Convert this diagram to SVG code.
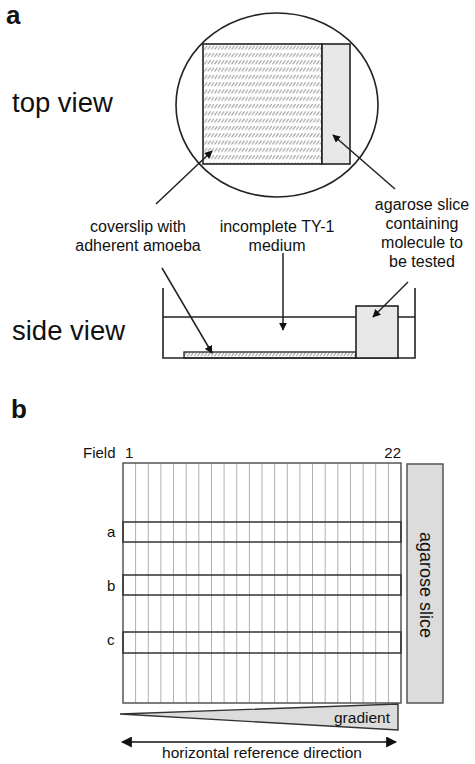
<svg xmlns="http://www.w3.org/2000/svg" width="475" height="764" viewBox="0 0 475 764">
<style>
text{font-family:"Liberation Sans",Arial,sans-serif;fill:#111}
.ln{stroke:#222;stroke-width:1.6;fill:none}
.lbl{font-size:16px;text-anchor:middle}
.big{font-size:27.5px}
.pl{font-size:26px;font-weight:bold}
.grid{stroke:#b0b0b0;stroke-width:1}
.band{fill:none;stroke:#333;stroke-width:1.5}
</style>
<defs>
<pattern id="hatch" patternUnits="userSpaceOnUse" width="3.4" height="7.3">
<line x1="0.3" y1="5.8" x2="3.1" y2="2" stroke="#999" stroke-width="1"/>
</pattern>
<marker id="ah" viewBox="0 0 10 10" refX="9" refY="5" markerWidth="8" markerHeight="8" markerUnits="userSpaceOnUse" orient="auto">
<path d="M0,0 L10,5 L0,10 z" fill="#111"/>
</marker>
<marker id="ah2" viewBox="0 0 10 10" refX="9" refY="5" markerWidth="11" markerHeight="11" markerUnits="userSpaceOnUse" orient="auto-start-reverse">
<path d="M0,0 L10,5 L0,10 z" fill="#111"/>
</marker>
</defs>

<text x="6" y="24" class="pl">a</text>
<text x="12" y="112" class="big">top view</text>
<text x="12" y="340" class="big">side view</text>

<g id="dish-top">
<ellipse cx="277" cy="105" rx="101" ry="92" class="ln"/>
<rect x="203" y="44" width="119" height="120" fill="url(#hatch)" stroke="#222" stroke-width="1.6"/>
<rect x="322" y="44" width="28" height="120" fill="#e8e8e8" stroke="#222" stroke-width="1.6"/>
</g>

<g id="labels">
<text class="lbl" x="138" y="232">coverslip with</text>
<text class="lbl" x="138" y="251">adherent amoeba</text>
<text class="lbl" x="277" y="232">incomplete TY-1</text>
<text class="lbl" x="277" y="251">medium</text>
<text class="lbl" x="422" y="210">agarose slice</text>
<text class="lbl" x="422" y="229">containing</text>
<text class="lbl" x="422" y="248">molecule to</text>
<text class="lbl" x="422" y="267">be tested</text>
</g>

<g id="dish-side">
<path d="M163,288 V358 H415 V288" class="ln"/>
<path d="M163,317 H356 M398,317 H415" stroke="#222" stroke-width="1.4" fill="none"/>
<rect x="184" y="352" width="172" height="6" fill="url(#hatch)" stroke="#222" stroke-width="1.3"/>
<rect x="356" y="306" width="42" height="52" fill="#e8e8e8" stroke="#222" stroke-width="1.6"/>
</g>

<g id="connectors" stroke="#222" stroke-width="1.5" fill="none">
<line x1="156" y1="204" x2="212" y2="151" marker-end="url(#ah)"/>
<line x1="395" y1="189" x2="333" y2="135" marker-end="url(#ah)"/>
<line x1="162" y1="268" x2="212" y2="353" marker-end="url(#ah)"/>
<line x1="283" y1="253" x2="283" y2="330" marker-end="url(#ah)"/>
<line x1="408" y1="282" x2="373" y2="317" marker-end="url(#ah)"/>
</g>

<text x="11" y="418" class="pl">b</text>

<g id="grid">
<text x="83" y="458" font-size="15">Field</text>
<text x="125" y="458" font-size="15">1</text>
<text x="401" y="458" font-size="15" text-anchor="end">22</text>
<g class="grid">
<line x1="135.6" y1="463" x2="135.6" y2="703"/><line x1="148.3" y1="463" x2="148.3" y2="703"/>
<line x1="160.9" y1="463" x2="160.9" y2="703"/><line x1="173.5" y1="463" x2="173.5" y2="703"/>
<line x1="186.2" y1="463" x2="186.2" y2="703"/><line x1="198.8" y1="463" x2="198.8" y2="703"/>
<line x1="211.5" y1="463" x2="211.5" y2="703"/><line x1="224.1" y1="463" x2="224.1" y2="703"/>
<line x1="236.7" y1="463" x2="236.7" y2="703"/><line x1="249.4" y1="463" x2="249.4" y2="703"/>
<line x1="262" y1="463" x2="262" y2="703"/><line x1="274.6" y1="463" x2="274.6" y2="703"/>
<line x1="287.3" y1="463" x2="287.3" y2="703"/><line x1="299.9" y1="463" x2="299.9" y2="703"/>
<line x1="312.5" y1="463" x2="312.5" y2="703"/><line x1="325.2" y1="463" x2="325.2" y2="703"/>
<line x1="337.8" y1="463" x2="337.8" y2="703"/><line x1="350.5" y1="463" x2="350.5" y2="703"/>
<line x1="363.1" y1="463" x2="363.1" y2="703"/><line x1="375.7" y1="463" x2="375.7" y2="703"/>
<line x1="388.4" y1="463" x2="388.4" y2="703"/>
</g>
<rect x="123" y="463" width="278" height="240" fill="none" stroke="#555" stroke-width="1.5"/>
<rect x="123" y="522" width="278" height="20" class="band"/>
<rect x="123" y="575" width="278" height="20" class="band"/>
<rect x="123" y="632" width="278" height="21" class="band"/>
<text x="107" y="537" font-size="15">a</text>
<text x="107" y="591" font-size="15">b</text>
<text x="107" y="645" font-size="15">c</text>
</g>

<g id="agarose-slice">
<rect x="407" y="464" width="36" height="239" fill="#dcdcdc" stroke="#555" stroke-width="1.5"/>
<text x="0" y="0" font-size="18" text-anchor="middle" transform="translate(420,585) rotate(90)">agarose slice</text>
</g>

<g id="gradient">
<polygon points="120,714 398,704 398,730" fill="#dcdcdc" stroke="#333" stroke-width="1.4"/>
<text x="390" y="723" font-size="15.5" text-anchor="end">gradient</text>
</g>

<g id="direction">
<line x1="122" y1="742" x2="396" y2="742" stroke="#111" stroke-width="1.6" marker-start="url(#ah2)" marker-end="url(#ah2)"/>
<text x="262" y="758" font-size="15.5" text-anchor="middle">horizontal reference direction</text>
</g>
</svg>
